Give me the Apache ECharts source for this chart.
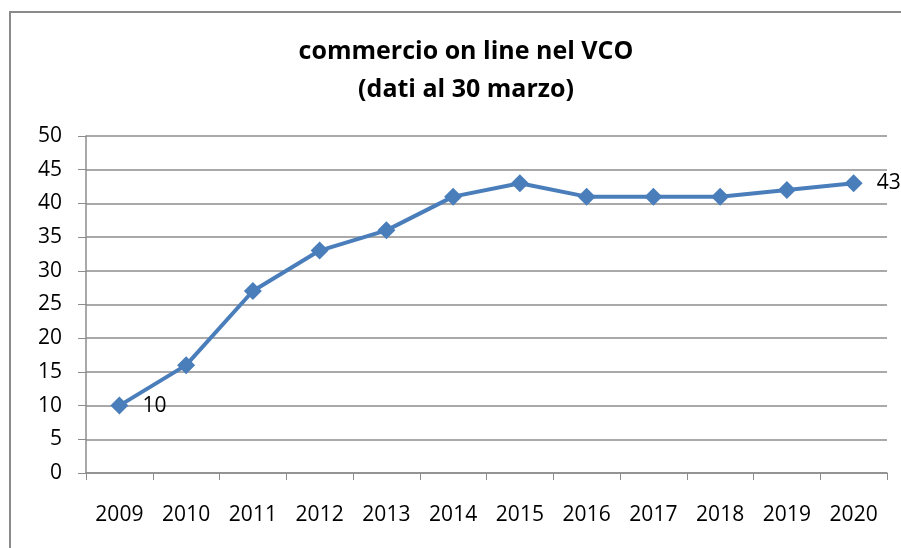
<!DOCTYPE html>
<html>
<head>
<meta charset="utf-8">
<script src="https://cdn.jsdelivr.net/npm/echarts@6/dist/echarts.min.js"></script>
<style>
html, body { margin: 0; padding: 0; background: #fff; }
#chart { width: 901px; height: 548px; }
</style>
</head>
<body>
<div id="chart"></div>
<script>
var anni = ['2009', '2010', '2011', '2012', '2013', '2014', '2015', '2016', '2017', '2018', '2019', '2020'];
var valori = [10, 16, 27, 33, 36, 41, 43, 41, 41, 41, 42, 43];
var titolo = 'commercio on line nel VCO\n(dati al 30 marzo)';
var font = 'Open Sans';

var mychart = echarts.init(document.getElementById('chart'));

// solo la prima e l'ultima etichetta sono visibili
var dati = valori.map(function (v, i) {
    var show = (i === 0 || i === valori.length - 1);
    return { value: v, label: { show: show } };
});

var option = {
    backgroundColor: '#fff',
    animation: false,
    title: {
        text: titolo,
        left: 461,
        top: 28,
        textAlign: 'center',
        textStyle: {
            fontFamily: font,
            fontSize: 25,
            fontWeight: 'bold',
            color: '#000',
            lineHeight: 38
        }
    },
    graphic: [{
        type: 'rect',
        shape: { x: 10, y: 12, width: 900, height: 545 },
        style: { fill: 'none', stroke: '#8a8a8a', lineWidth: 2 },
        silent: true
    }],
    grid: { left: 86, right: 14, top: 136, bottom: 75 },
    xAxis: {
        type: 'category',
        data: anni,
        boundaryGap: true,
        axisLine: { lineStyle: { color: '#8c8c8c', width: 1.5 } },
        axisTick: { show: true, length: 7, lineStyle: { color: '#8c8c8c' } },
        axisLabel: { color: '#000', fontFamily: font, fontSize: 21, margin: 32 }
    },
    yAxis: {
        type: 'value',
        min: 0,
        max: 50,
        interval: 5,
        axisLine: { show: true, lineStyle: { color: '#8c8c8c', width: 1.5 } },
        axisTick: { show: true, length: 8, inside: false, lineStyle: { color: '#8c8c8c' } },
        splitLine: { lineStyle: { color: '#8c8c8c', width: 1.5 } },
        axisLabel: { color: '#000', fontFamily: font, fontSize: 21, margin: 24 }
    },
    series: [{
        type: 'line',
        data: dati,
        symbol: 'diamond',
        symbolSize: 18,
        lineStyle: { color: '#4a7ebb', width: 4 },
        itemStyle: { color: '#4a7ebb' },
        label: {
            position: 'right',
            distance: 14,
            color: '#000',
            fontFamily: font,
            fontSize: 21
        }
    }]
};
mychart.setOption(option);
</script>
</body>
</html>
